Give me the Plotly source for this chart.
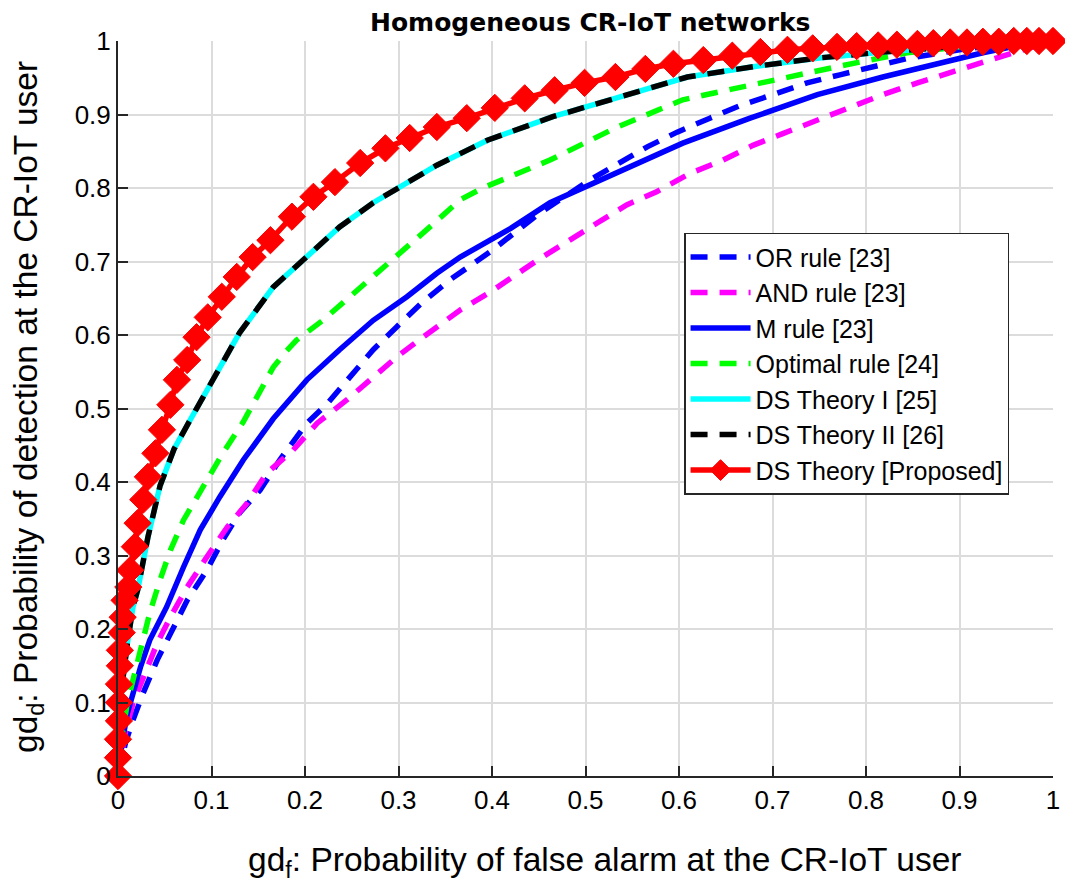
import plotly.graph_objects as go

# ---------------- data ----------------
or_x = [0, 0.008, 0.016, 0.027, 0.042, 0.059, 0.074, 0.095, 0.112, 0.130, 0.152, 0.173, 0.202, 0.224, 0.248,
        0.273, 0.298, 0.326, 0.355, 0.400, 0.450, 0.505, 0.566, 0.598, 0.633, 0.665, 0.705, 0.737, 0.772,
        0.807, 0.847, 0.900, 0.950, 1.0]
or_y = [0, 0.045, 0.076, 0.113, 0.158, 0.203, 0.239, 0.280, 0.321, 0.358, 0.389, 0.430, 0.480, 0.507, 0.543,
        0.580, 0.611, 0.645, 0.675, 0.715, 0.765, 0.811, 0.856, 0.876, 0.895, 0.912, 0.929, 0.943, 0.954,
        0.965, 0.977, 0.988, 0.996, 1.0]

and_x = [0, 0.008, 0.016, 0.027, 0.042, 0.056, 0.074, 0.095, 0.117, 0.138, 0.159, 0.187, 0.213, 0.245, 0.270,
         0.298, 0.326, 0.366, 0.400, 0.450, 0.512, 0.544, 0.576, 0.612, 0.647, 0.679, 0.711, 0.748, 0.783,
         0.818, 0.855, 0.887, 0.922, 0.960, 1.0]
and_y = [0, 0.060, 0.099, 0.135, 0.181, 0.216, 0.257, 0.298, 0.339, 0.371, 0.412, 0.443, 0.480, 0.512, 0.539,
         0.570, 0.597, 0.634, 0.660, 0.703, 0.752, 0.777, 0.795, 0.820, 0.838, 0.858, 0.874, 0.893, 0.909,
         0.927, 0.943, 0.956, 0.971, 0.985, 1.0]

m_x = [0, 0.005, 0.010, 0.016, 0.024, 0.034, 0.052, 0.070, 0.088, 0.109, 0.134, 0.166, 0.202, 0.237, 0.273,
       0.309, 0.341, 0.366, 0.420, 0.462, 0.534, 0.604, 0.676, 0.748, 0.818, 0.890, 0.925, 0.960, 1.0]
m_y = [0, 0.050, 0.085, 0.113, 0.148, 0.185, 0.230, 0.284, 0.335, 0.380, 0.430, 0.486, 0.539, 0.580, 0.620,
       0.652, 0.684, 0.706, 0.745, 0.780, 0.822, 0.861, 0.895, 0.927, 0.951, 0.974, 0.984, 0.993, 1.0]

opt_x = [0, 0.005, 0.010, 0.016, 0.024, 0.034, 0.045, 0.056, 0.070, 0.091, 0.112, 0.134, 0.148, 0.166, 0.180,
         0.191, 0.219, 0.248, 0.277, 0.302, 0.330, 0.366, 0.390, 0.462, 0.534, 0.604, 0.640, 0.665, 0.733,
         0.769, 0.804, 0.844, 0.900, 1.0]
opt_y = [0, 0.060, 0.100, 0.131, 0.176, 0.222, 0.267, 0.307, 0.348, 0.393, 0.439, 0.482, 0.516, 0.556, 0.578,
         0.593, 0.620, 0.652, 0.682, 0.712, 0.743, 0.784, 0.800, 0.838, 0.883, 0.920, 0.930, 0.937, 0.956,
         0.965, 0.974, 0.984, 0.992, 1.0]

ds1_x = [0, 0.004, 0.010, 0.016, 0.021, 0.026, 0.032, 0.045, 0.060, 0.077, 0.109, 0.130, 0.166, 0.202, 0.237,
         0.273, 0.309, 0.341, 0.395, 0.465, 0.537, 0.609, 0.679, 0.750, 0.818, 0.900, 1.0]
ds1_y = [0, 0.120, 0.180, 0.230, 0.253, 0.284, 0.325, 0.395, 0.445, 0.484, 0.556, 0.603, 0.665, 0.706, 0.747,
         0.780, 0.807, 0.831, 0.865, 0.897, 0.924, 0.951, 0.965, 0.977, 0.985, 0.993, 1.0]

ds2_x = [0, 0.004, 0.010, 0.016, 0.021, 0.026, 0.032, 0.045, 0.060, 0.077, 0.109, 0.130, 0.166, 0.202, 0.237,
         0.273, 0.309, 0.341, 0.395, 0.465, 0.537, 0.609, 0.679, 0.750, 0.818, 0.900, 1.0]
ds2_y = [0, 0.120, 0.180, 0.230, 0.253, 0.284, 0.325, 0.395, 0.445, 0.484, 0.556, 0.603, 0.665, 0.706, 0.747,
         0.780, 0.807, 0.831, 0.865, 0.897, 0.924, 0.951, 0.965, 0.977, 0.985, 0.993, 1.0]

prop_x = [0.000, 0.000, 0.000, 0.001, 0.001, 0.001, 0.002, 0.002, 0.004, 0.005, 0.007, 0.011, 0.013, 0.018,
          0.021, 0.027, 0.032, 0.040, 0.047, 0.056, 0.063, 0.074, 0.084, 0.096, 0.111, 0.127, 0.144, 0.163,
          0.186, 0.209, 0.232, 0.259, 0.286, 0.312, 0.341, 0.373, 0.403, 0.435, 0.467, 0.499, 0.532, 0.564,
          0.594, 0.626, 0.657, 0.687, 0.716, 0.743, 0.769, 0.790, 0.813, 0.833, 0.855, 0.872, 0.890, 0.908,
          0.925, 0.942, 0.958, 0.972, 0.985, 1.000]
prop_y = [0.000, 0.025, 0.050, 0.075, 0.100, 0.125, 0.150, 0.171, 0.195, 0.216, 0.239, 0.257, 0.280, 0.312,
          0.344, 0.376, 0.407, 0.439, 0.471, 0.505, 0.539, 0.566, 0.597, 0.624, 0.652, 0.679, 0.706, 0.729,
          0.761, 0.788, 0.808, 0.834, 0.854, 0.868, 0.883, 0.895, 0.909, 0.922, 0.933, 0.943, 0.951, 0.962,
          0.969, 0.974, 0.980, 0.985, 0.988, 0.990, 0.992, 0.993, 0.994, 0.995, 0.996, 0.997, 0.998, 0.998,
          0.999, 0.999, 1.000, 1.000, 1.000, 1.000]

tick_vals = [0, 0.1, 0.2, 0.3, 0.4, 0.5, 0.6, 0.7, 0.8, 0.9, 1]
tick_text = ["0", "0.1", "0.2", "0.3", "0.4", "0.5", "0.6", "0.7", "0.8", "0.9", "1"]

x_title = "gd<sub>f</sub>: Probability of false alarm at the CR-IoT user"
y_title = "gd<sub>d</sub>: Probability of detection at the CR-IoT user"
chart_title = "<b>Homogeneous CR-IoT networks</b>"

FONT = "Liberation Sans, Arial, sans-serif"
DASH = "17px,12px"
LW = 5.5

# page body has an 8px default margin: figure is sized/margined to compensate
W, H = 1065, 884
ML, MR, MT, MB = 110, 20, 33, 116

fig = go.Figure()
fig.add_trace(go.Scatter(x=or_x, y=or_y, mode="lines", name="OR rule [23]",
                         line=dict(color="#0000ff", width=LW, dash=DASH)))
fig.add_trace(go.Scatter(x=and_x, y=and_y, mode="lines", name="AND rule [23]",
                         line=dict(color="#ff00ff", width=LW, dash=DASH)))
fig.add_trace(go.Scatter(x=m_x, y=m_y, mode="lines", name="M rule [23]",
                         line=dict(color="#0000ff", width=LW)))
fig.add_trace(go.Scatter(x=opt_x, y=opt_y, mode="lines", name="Optimal rule [24]",
                         line=dict(color="#00ff00", width=LW, dash=DASH)))
fig.add_trace(go.Scatter(x=ds1_x, y=ds1_y, mode="lines", name="DS Theory I [25]",
                         line=dict(color="#00ffff", width=LW)))
fig.add_trace(go.Scatter(x=ds2_x, y=ds2_y, mode="lines", name="DS Theory II [26]",
                         line=dict(color="#000000", width=LW, dash=DASH)))
fig.add_trace(go.Scatter(x=prop_x, y=prop_y, mode="lines+markers", name="DS Theory [Proposed]",
                         line=dict(color="#ff0000", width=5.5),
                         marker=dict(symbol="diamond", size=21, color="#ff0000",
                                     line=dict(color="#ff0000", width=1)),
                         cliponaxis=False))

axis_common = dict(
    range=[0, 1], tickvals=tick_vals, ticktext=tick_text, automargin=False,
    showgrid=True, gridcolor="#dcdcdc", gridwidth=1.5,
    showline=True, linecolor="#262626", linewidth=2, mirror=False,
    ticks="inside", ticklen=10, tickwidth=2, tickcolor="#262626",
    zeroline=False, tickfont=dict(family=FONT, size=26, color="#000000"),
)

fig.update_layout(
    width=W, height=H,
    paper_bgcolor="white", plot_bgcolor="white",
    margin=dict(l=ML, r=MR, t=MT, b=MB, autoexpand=False),
    font=dict(family=FONT, color="#000000"),
    xaxis=dict(**axis_common),
    yaxis=dict(**axis_common),
    legend=dict(x=0.953, y=0.739, xanchor="right", yanchor="top",
                bgcolor="white", bordercolor="#262626", borderwidth=1.5,
                font=dict(family=FONT, size=25, color="#000000"),
                tracegroupgap=0, itemwidth=60),
    showlegend=True,
    annotations=[
        dict(text=chart_title, xref="paper", yref="paper", x=0.5053, y=1.0245,
             xanchor="center", yanchor="middle", showarrow=False,
             font=dict(family="DejaVu Sans, Liberation Sans, sans-serif", size=25, color="#000000")),
        dict(text=x_title, xref="paper", yref="paper", x=0.52, y=-0.117,
             xanchor="center", yanchor="middle", showarrow=False,
             font=dict(family=FONT, size=33.5, color="#000000")),
        dict(text=y_title, xref="paper", yref="paper", x=-0.0963, y=0.502,
             xanchor="center", yanchor="middle", showarrow=False, textangle=-90,
             font=dict(family=FONT, size=33.5, color="#000000")),
    ],
)

fig.write_html("out.html")
